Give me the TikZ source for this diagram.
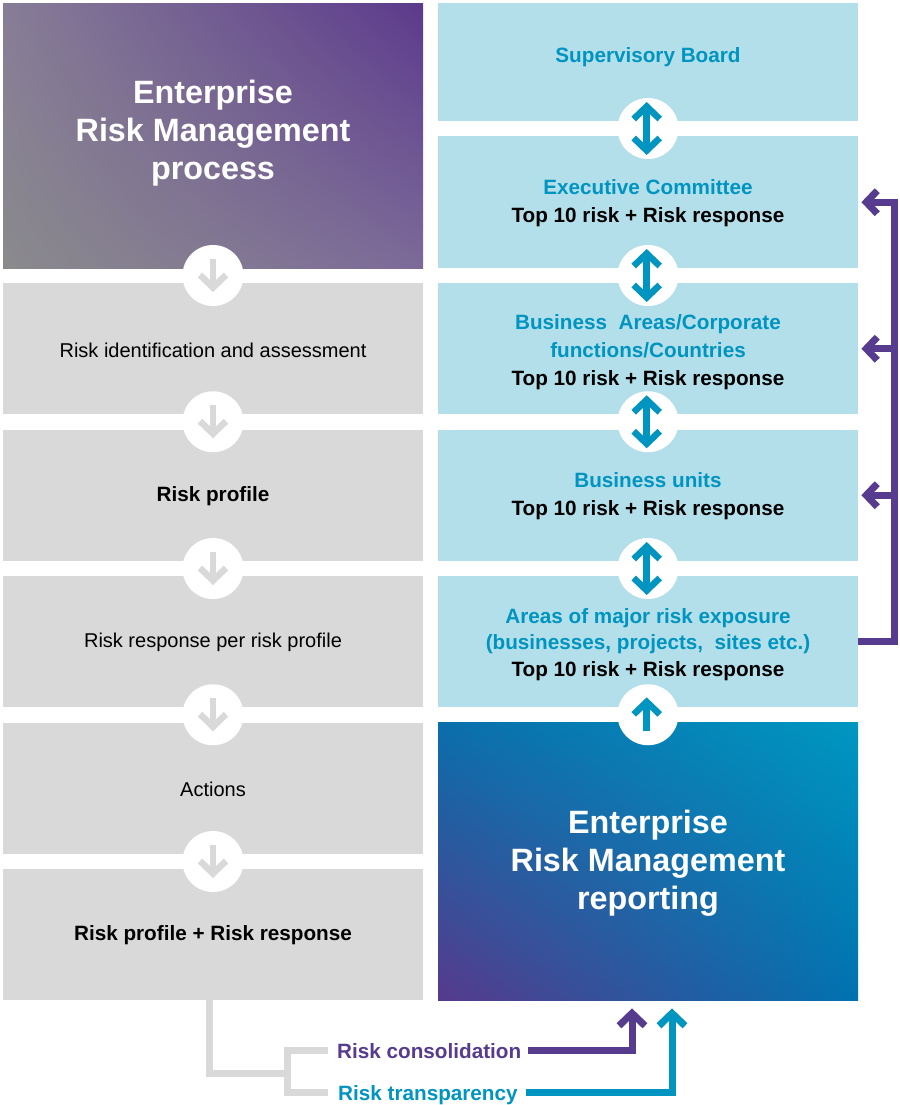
\documentclass[tikz,border=0pt]{standalone}
\usepackage{fontspec}
\setmainfont{Liberation Sans}
\usetikzlibrary{calc,arrows.meta,shadings}
\definecolor{ermpurple}{HTML}{563B8E}
\definecolor{ermteal}{HTML}{0094C0}
\definecolor{ermlight}{HTML}{B3DFEA}
\definecolor{ermgrey}{HTML}{D9D9D9}
\definecolor{hdrLL}{HTML}{8A8A8C}
\definecolor{hdrUL}{HTML}{877D97}
\definecolor{hdrLR}{HTML}{7C6A99}
\definecolor{hdrUR}{HTML}{5C3A8C}
\definecolor{repLL}{HTML}{573A8C}
\definecolor{repUL}{HTML}{0A6EAB}
\definecolor{repLR}{HTML}{0072B0}
\definecolor{repUR}{HTML}{0097C1}
\begin{document}
\begin{tikzpicture}[x=1pt,y=-1pt,
  box/.style={draw=none, inner sep=0pt, minimum width=420pt, anchor=north west},
  greybox/.style={box, fill=ermgrey, minimum height=131pt},
  bluebox/.style={box, fill=ermlight},
  circ/.style={circle, fill=white, draw=none, minimum size=61pt, inner sep=0pt},
  bigtitle/.style={text=white, font=\fontsize{32.3}{38}\selectfont\bfseries, align=center, inner sep=0pt},
  bodytext/.style={font=\fontsize{20}{28}\selectfont, align=center, inner sep=0pt},
  boldtext/.style={font=\fontsize{20.7}{28}\selectfont\bfseries, align=center, inner sep=0pt},
  bigtip/.tip={Straight Barb[length=12.5pt,width=26pt]},
  midtip/.tip={Straight Barb[length=11pt,width=23pt]},
  garrow/.style={draw=ermgrey, line width=6.5pt, -bigtip},
  tarrow/.style={draw=ermteal, line width=6.5pt, -bigtip},
  tdarrow/.style={draw=ermteal, line width=6.5pt, bigtip-bigtip},
  pline/.style={draw=ermpurple, line width=7pt},
  ptip/.style={pline, -midtip},
  tline/.style={draw=ermteal, line width=7pt},
  gline/.style={draw=ermgrey, line width=7pt},
  legtext/.style={font=\fontsize{20.7}{28}\selectfont\bfseries, inner sep=0pt, text depth=0pt, anchor=base west}
]
\fill[white] (0,0) rectangle (899,1105);
\useasboundingbox (0,0) rectangle (899,1105);

% left column
\node[box, minimum height=265pt, shade, lower left=hdrLL, upper left=hdrUL, lower right=hdrLR, upper right=hdrUR] (hdr) at (3,3) {};
\node[greybox] (l1) at (3,283) {};
\node[greybox] (l2) at (3,429.5) {};
\node[greybox] (l3) at (3,576) {};
\node[greybox] (l4) at (3,722.5) {};
\node[greybox] (l5) at (3,869) {};

% right column
\node[bluebox, minimum height=118pt] (sb) at (438,3) {};
\node[bluebox, minimum height=132pt] (ec) at (438,136) {};
\node[bluebox, minimum height=131pt] (ba) at (438,283) {};
\node[bluebox, minimum height=131pt] (bu) at (438,429.5) {};
\node[bluebox, minimum height=131pt] (am) at (438,576) {};
\node[box, minimum height=277.5pt, shade, lower left=repLL, upper left=repUL, lower right=repLR, upper right=repUR] (rep) at (438,722.5) {};

% texts
\node[bigtitle] (hdrtxt) at (213,133) {Enterprise\\Risk Management\\process};
\node[bodytext] (l1txt) at (213,350) {Risk identification and assessment};
\node[boldtext] (l2txt) at (213,496) {Risk profile};
\node[bodytext] (l3txt) at (213,642) {Risk response per risk profile};
\node[bodytext] (l4txt) at (213,789) {Actions};
\node[boldtext] (l5txt) at (213,935) {Risk profile + Risk response};

\node[boldtext, text=ermteal] (sbtxt) at (648,57) {Supervisory Board};
\node[boldtext] (ectxt) at (648,203) {{\color{ermteal}Executive Committee}\\Top 10 risk + Risk response};
\node[boldtext] (batxt) at (648,352) {{\color{ermteal}Business~~Areas/Corporate}\\{\color{ermteal}functions/Countries}\\Top 10 risk + Risk response};
\node[boldtext] (butxt) at (648,496) {{\color{ermteal}Business units}\\Top 10 risk + Risk response};
\node[boldtext, font=\fontsize{20.7}{26.5}\selectfont\bfseries] (amtxt) at (648,644.5) {{\color{ermteal}Areas of major risk exposure}\\{\color{ermteal}(businesses, projects,~~sites etc.)}\\Top 10 risk + Risk response};
\node[bigtitle] (reptxt) at (648,863) {Enterprise\\Risk Management\\reporting};

% circles between boxes
\node[circ] (c1) at (213,275.5) {};
\node[circ] (c2) at (213,421.75) {};
\node[circ] (c3) at (213,568.5) {};
\node[circ] (c4) at (213,714.75) {};
\node[circ] (c5) at (213,861.5) {};
\node[circ] (r1) at (648,128.5) {};
\node[circ] (r2) at (648,275.5) {};
\node[circ] (r3) at (648,421.75) {};
\node[circ] (r4) at (648,568.5) {};
\node[circ] (r5) at (648,714.75) {};

\foreach \c in {c1,c2,c3,c4,c5}{
  \draw[garrow] ($(\c)+(0,-17)$) -- ($(\c)+(0,16.5)$);
}
\foreach \c in {r1,r2,r3,r4}{
  \draw[tdarrow] ($(\c)+(-1.3,-26.5)$) -- ($(\c)+(-1.3,26.5)$);
}
\draw[tarrow] ($(r5)+(-1.3,16.6)$) -- ($(r5)+(-1.3,-17.4)$);

% purple feedback rail
\draw[ptip] (am.east) -| ([xshift=36.5pt]ec.east) -- ([xshift=3pt]ec.east);
\draw[ptip] ([xshift=36.5pt]ba.east) -- ([xshift=3pt]ba.east);
\draw[ptip] ([xshift=36.5pt]bu.east) -- ([xshift=3pt]bu.east);

% legend
\node[legtext, text=ermpurple] (rc) at (337,1058) {Risk consolidation};
\node[legtext, text=ermteal] (rt) at (338,1100) {Risk transparency};
\coordinate (fork) at (287.5,1073.5);
\draw[gline] ($(l5.south)+(-3.5,0)$) |- (fork);
\draw[gline] ([xshift=-9pt]rc.west) -| (fork) |- ([xshift=-10pt]rt.west);
\draw[pline, -bigtip] ([xshift=7pt]rc.east) -| ($(rep.south west)+(194,8)$);
\draw[tline, -bigtip] ([xshift=8pt]rt.east) -| ($(rep.south west)+(234,8)$);
\end{tikzpicture}
\end{document}
